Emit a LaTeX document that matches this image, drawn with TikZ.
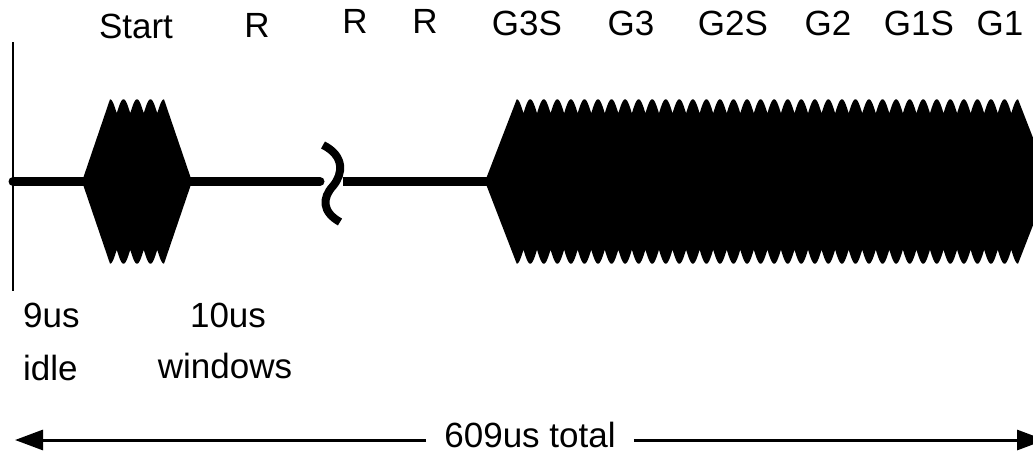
\documentclass[tikz,border=0pt]{standalone}
\usepackage{fontspec}
\setmainfont{Liberation Sans}
\usetikzlibrary{arrows.meta}
\begin{document}
\begin{tikzpicture}[x=1pt,y=-1pt,
  lbl/.style={font=\fontsize{35}{40}\selectfont, inner sep=0pt, anchor=base},
  wire/.style={line width=9pt},
  burst/.style={fill=black, draw=none},
  dimline/.style={line width=3pt, -{Triangle[length=28pt,width=20pt]}}]
\useasboundingbox (0,0) rectangle (1033,453);
\clip (0,0) rectangle (1033,453);
% time axis marker
\draw[line width=2pt] (13,42) -- (13,291);
% baseline with break
\draw[wire, line cap=round] (13,181.5) -- (320,181.5);
\draw[wire] (343,181.5) -- (490,181.5);
\draw[line width=8pt] (323,145) .. controls (345,156) and (343,174) .. (333,186) .. controls (322,198) and (322,212) .. (340,222);
% start burst
\fill[burst] (82,181.5) -- plot[domain=110:164, samples=300] (\x, {99.3+14*(1-abs(cos((\x-110)*13.3333)))})
  -- (192,181.5) -- plot[domain=164:110, samples=300] (\x, {263.7-14*(1-abs(cos((\x-110)*13.3333)))}) -- cycle;
% main burst
\fill[burst] (485,181.5) -- plot[domain=516.7:1018.05, samples=2000] (\x, {99.3+14*(1-abs(cos((\x-516.7)*13.2841)))})
  -- (1050,181.5) -- plot[domain=1018.05:516.7, samples=2000] (\x, {263.7-14*(1-abs(cos((\x-516.7)*13.2841)))}) -- cycle;
% top labels
\node[lbl] (start) at (136,38) {Start};
\node[lbl] (r1) at (257,37) {R};
\node[lbl] (r2) at (355,33) {R};
\node[lbl] (r3) at (425,33) {R};
\node[lbl] (g3s) at (527,35) {G3S};
\node[lbl] (g3) at (631,35) {G3};
\node[lbl] (g2s) at (733,35) {G2S};
\node[lbl] (g2) at (828,35) {G2};
\node[lbl] (g1s) at (919,35) {G1S};
\node[lbl] (g1) at (1000,35) {G1};
% bottom labels
\node[lbl, anchor=base west] (nine) at (23,327) {9us};
\node[lbl, anchor=base west] (idle) at (23,380) {idle};
\node[lbl] (ten) at (228,327) {10us};
\node[lbl] (win) at (225,378) {windows};
% total dimension
\node[lbl, inner xsep=18pt] (total) at (530,447) {609us total};
\coordinate (la) at (15,440);
\coordinate (ra) at (1045,440);
\draw[dimline] (total.west |- la) -- (la);
\draw[dimline] (total.east |- ra) -- (ra);
\end{tikzpicture}
\end{document}
